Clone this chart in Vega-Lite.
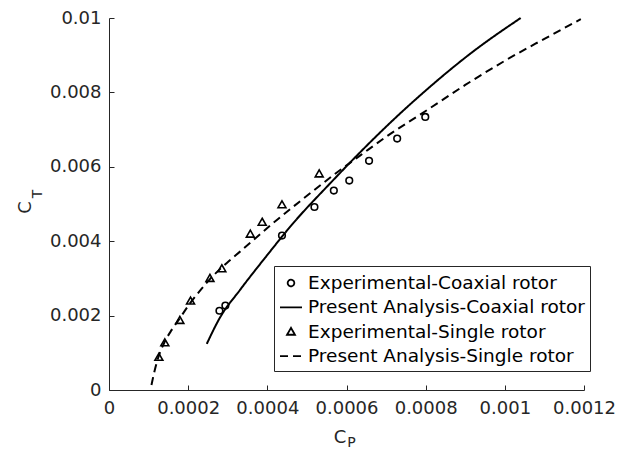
{
  "$schema": "https://vega.github.io/schema/vega-lite/v6.json",
  "width": 475,
  "height": 372,
  "autosize": "none",
  "padding": {"left": 109, "top": 18, "right": 44, "bottom": 61},
  "background": "white",
  "config": {
    "view": {"stroke": null},
    "axis": {
      "grid": false,
      "domainColor": "#262626",
      "tickColor": "#262626",
      "tickSize": -5,
      "labelColor": "#262626",
      "labelFont": "DejaVu Sans",
      "labelFontSize": 18,
      "labelOverlap": false,
      "labelFlush": false,
      "titleFont": "DejaVu Sans",
      "titleColor": "#262626",
      "titleFontWeight": "normal"
    },
    "legend": {
      "orient": "none",
      "padding": 5,
      "strokeColor": "#262626",
      "fillColor": "white",
      "symbolSize": 484,
      "symbolStrokeWidth": 1.8,
      "symbolStrokeColor": "black",
      "symbolFillColor": "transparent",
      "labelFont": "DejaVu Sans",
      "labelFontSize": 18.5,
      "labelColor": "black",
      "labelLimit": 400,
      "rowPadding": 2.4,
      "labelOffset": 5
    }
  },
  "datasets": {
    "pts": [
      {"cp": 0.000279, "ct": 0.00213, "series": "Experimental-Coaxial rotor"},
      {"cp": 0.000294, "ct": 0.00227, "series": "Experimental-Coaxial rotor"},
      {"cp": 0.000437, "ct": 0.00415, "series": "Experimental-Coaxial rotor"},
      {"cp": 0.000519, "ct": 0.00492, "series": "Experimental-Coaxial rotor"},
      {"cp": 0.000568, "ct": 0.00536, "series": "Experimental-Coaxial rotor"},
      {"cp": 0.000607, "ct": 0.00563, "series": "Experimental-Coaxial rotor"},
      {"cp": 0.000657, "ct": 0.00616, "series": "Experimental-Coaxial rotor"},
      {"cp": 0.000728, "ct": 0.00676, "series": "Experimental-Coaxial rotor"},
      {"cp": 0.000799, "ct": 0.00734, "series": "Experimental-Coaxial rotor"},
      {"cp": 0.000126, "ct": 0.00088, "series": "Experimental-Single rotor"},
      {"cp": 0.000141, "ct": 0.00127, "series": "Experimental-Single rotor"},
      {"cp": 0.000179, "ct": 0.00187, "series": "Experimental-Single rotor"},
      {"cp": 0.000206, "ct": 0.00239, "series": "Experimental-Single rotor"},
      {"cp": 0.000255, "ct": 0.00300, "series": "Experimental-Single rotor"},
      {"cp": 0.000285, "ct": 0.00326, "series": "Experimental-Single rotor"},
      {"cp": 0.000357, "ct": 0.00419, "series": "Experimental-Single rotor"},
      {"cp": 0.000387, "ct": 0.00451, "series": "Experimental-Single rotor"},
      {"cp": 0.000437, "ct": 0.00498, "series": "Experimental-Single rotor"},
      {"cp": 0.000531, "ct": 0.00581, "series": "Experimental-Single rotor"}
    ],
    "lines": [
      {"cp": 0.000247, "ct": 0.00124, "series": "Present Analysis-Coaxial rotor"},
      {"cp": 0.00028, "ct": 0.00194, "series": "Present Analysis-Coaxial rotor"},
      {"cp": 0.000331, "ct": 0.00269, "series": "Present Analysis-Coaxial rotor"},
      {"cp": 0.000394, "ct": 0.00355, "series": "Present Analysis-Coaxial rotor"},
      {"cp": 0.000465, "ct": 0.00448, "series": "Present Analysis-Coaxial rotor"},
      {"cp": 0.00056, "ct": 0.00557, "series": "Present Analysis-Coaxial rotor"},
      {"cp": 0.00064, "ct": 0.00645, "series": "Present Analysis-Coaxial rotor"},
      {"cp": 0.00072, "ct": 0.00728, "series": "Present Analysis-Coaxial rotor"},
      {"cp": 0.0008, "ct": 0.00805, "series": "Present Analysis-Coaxial rotor"},
      {"cp": 0.00092, "ct": 0.0091, "series": "Present Analysis-Coaxial rotor"},
      {"cp": 0.00104, "ct": 0.01, "series": "Present Analysis-Coaxial rotor"},
      {"cp": 0.0001073, "ct": 0.000135, "series": "Present Analysis-Single rotor"},
      {"cp": 0.0001157, "ct": 0.00054, "series": "Present Analysis-Single rotor"},
      {"cp": 0.000124, "ct": 0.00086, "series": "Present Analysis-Single rotor"},
      {"cp": 0.000141, "ct": 0.0013, "series": "Present Analysis-Single rotor"},
      {"cp": 0.000158, "ct": 0.00161, "series": "Present Analysis-Single rotor"},
      {"cp": 0.000177, "ct": 0.0019, "series": "Present Analysis-Single rotor"},
      {"cp": 0.000204, "ct": 0.00232, "series": "Present Analysis-Single rotor"},
      {"cp": 0.00023, "ct": 0.00267, "series": "Present Analysis-Single rotor"},
      {"cp": 0.000255, "ct": 0.00298, "series": "Present Analysis-Single rotor"},
      {"cp": 0.000297, "ct": 0.00341, "series": "Present Analysis-Single rotor"},
      {"cp": 0.000331, "ct": 0.00372, "series": "Present Analysis-Single rotor"},
      {"cp": 0.000415, "ct": 0.00449, "series": "Present Analysis-Single rotor"},
      {"cp": 0.000487, "ct": 0.00511, "series": "Present Analysis-Single rotor"},
      {"cp": 0.00058, "ct": 0.00588, "series": "Present Analysis-Single rotor"},
      {"cp": 0.000643, "ct": 0.00637, "series": "Present Analysis-Single rotor"},
      {"cp": 0.000702, "ct": 0.00682, "series": "Present Analysis-Single rotor"},
      {"cp": 0.0008, "ct": 0.0075, "series": "Present Analysis-Single rotor"},
      {"cp": 0.0009, "ct": 0.0082, "series": "Present Analysis-Single rotor"},
      {"cp": 0.001, "ct": 0.00885, "series": "Present Analysis-Single rotor"},
      {"cp": 0.0011, "ct": 0.00944, "series": "Present Analysis-Single rotor"},
      {"cp": 0.001192, "ct": 0.00997, "series": "Present Analysis-Single rotor"}
    ]
  },
  "resolve": {"axis": {"x": "independent", "y": "independent"}},
  "layer": [
    {
      "data": {"name": "pts"},
      "mark": {"type": "point", "filled": false, "color": "black", "strokeWidth": 1.6, "opacity": 1, "size": 484},
      "encoding": {
        "x": {"field": "cp", "type": "quantitative",
              "scale": {"domain": [0, 0.0012], "nice": false},
              "axis": {"orient": "bottom", "values": [0, 0.0002, 0.0004, 0.0006, 0.0008, 0.001, 0.0012], "labelExpr": "format(datum.value, '~g')", "labelPadding": 14, "title": "C", "titleFontSize": 18, "titleAlign": "center", "titleBaseline": "alphabetic", "titleX": 230.5, "titleY": 52}},
        "y": {"field": "ct", "type": "quantitative",
              "scale": {"domain": [0, 0.01], "nice": false},
              "axis": {"orient": "left", "values": [0, 0.002, 0.004, 0.006, 0.008, 0.01], "labelExpr": "format(datum.value, '~g')", "labelPadding": 13, "title": "C", "titleFontSize": 18, "titleAngle": 270, "titleAlign": "center", "titleBaseline": "alphabetic", "titleX": -78.5, "titleY": 189}},
        "shape": {"field": "series", "type": "nominal",
                  "scale": {"domain": ["Experimental-Coaxial rotor", "Present Analysis-Coaxial rotor", "Experimental-Single rotor", "Present Analysis-Single rotor"],
                            "range": ["M0.3,0A0.3,0.3 0 1,1 -0.3,0A0.3,0.3 0 1,1 0.3,0Z", "M-1,0H1", "M0,-0.36L0.36,0.27L-0.36,0.27Z", "M-1,0H1"]},
                  "legend": {"title": null, "orient": "none", "legendX": 165, "legendY": 248}}
      }
    },
    {
      "data": {"name": "lines"},
      "mark": {"type": "line", "color": "black", "strokeWidth": 2, "interpolate": "monotone"},
      "encoding": {
        "x": {"field": "cp", "type": "quantitative", "axis": null},
        "y": {"field": "ct", "type": "quantitative", "axis": null},
        "strokeDash": {"field": "series", "type": "nominal",
                       "scale": {"domain": ["Experimental-Coaxial rotor", "Present Analysis-Coaxial rotor", "Experimental-Single rotor", "Present Analysis-Single rotor"],
                                 "range": [[1, 0], [1, 0], [1, 0], [8, 5]]},
                       "legend": {"title": null, "orient": "none", "legendX": 165, "legendY": 248}}
      }
    },
    {
      "data": {"name": "pts"},
      "mark": {"type": "point", "opacity": 0},
      "encoding": {
        "x": {"field": "cp", "type": "quantitative",
              "axis": {"orient": "bottom", "domain": false, "ticks": false, "labels": false, "title": "P", "titleFontSize": 14, "titleAlign": "center", "titleBaseline": "alphabetic", "titleX": 242, "titleY": 56.5}},
        "y": {"field": "ct", "type": "quantitative",
              "axis": {"orient": "left", "domain": false, "ticks": false, "labels": false, "title": "T", "titleFontSize": 14, "titleAngle": 270, "titleAlign": "center", "titleBaseline": "alphabetic", "titleX": -67.5, "titleY": 175.5}}
      }
    }
  ]
}
